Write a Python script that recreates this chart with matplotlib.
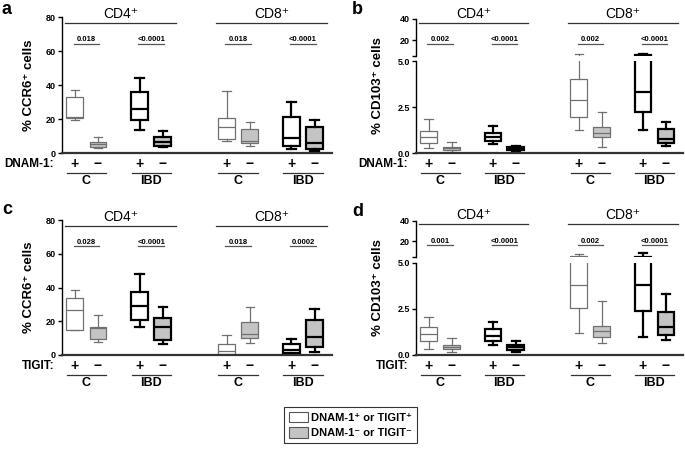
import matplotlib
matplotlib.use('Agg')
import matplotlib.pyplot as plt
from matplotlib.patches import Patch
from matplotlib import transforms

plt.rcParams['font.family'] = ['Liberation Sans', 'DejaVu Sans']

# box order: CD4 C+, CD4 C-, CD4 IBD+, CD4 IBD-, CD8 C+, CD8 C-, CD8 IBD+, CD8 IBD-
# each box: (whisker low, Q1, median, Q3, whisker high)
ccr6_dnam = [(19.4, 20.4, 21.4, 33.2, 37.1), (3.1, 3.7, 5.1, 6.7, 9.4),
             (13.4, 19.4, 25.9, 35.8, 44.2), (3.3, 4.3, 6.3, 9.2, 13.0),
             (6.9, 8.1, 15.1, 20.8, 36.5), (3.9, 5.7, 7.3, 13.9, 18.3),
             (2.4, 3.9, 9.0, 21.0, 30.3), (1.2, 2.6, 5.7, 15.3, 19.4)]
cd103_dnam = [(0.26, 0.53, 0.85, 1.21, 1.85), (0.05, 0.18, 0.25, 0.34, 0.58),
              (0.49, 0.65, 0.89, 1.07, 1.48), (0.10, 0.15, 0.22, 0.32, 0.36),
              (1.25, 1.94, 2.86, 4.04, 6.6), (0.31, 0.87, 1.10, 1.43, 2.21),
              (1.25, 2.21, 3.33, 5.6, 6.8), (0.38, 0.53, 0.78, 1.29, 1.70)]
ccr6_tigit = [(14.6, 14.6, 26.9, 33.6, 38.3), (7.5, 9.5, 16.0, 16.6, 23.5),
              (16.8, 20.8, 29.0, 37.4, 48.2), (6.7, 9.1, 16.8, 21.9, 28.7),
              (0.2, 0.8, 2.2, 6.7, 11.9), (7.1, 9.9, 12.5, 19.8, 28.3),
              (0.2, 1.0, 2.8, 6.7, 9.7), (2.0, 4.7, 10.7, 20.6, 27.5)]
cd103_tigit = [(0.33, 0.76, 1.13, 1.52, 2.09), (0.15, 0.30, 0.41, 0.52, 0.91),
               (0.56, 0.74, 1.02, 1.43, 1.81), (0.19, 0.26, 0.43, 0.57, 0.76),
               (1.20, 2.56, 3.80, 5.5, 7.5), (0.63, 0.98, 1.33, 1.57, 2.96),
               (0.98, 2.41, 3.83, 5.4, 9.0), (0.80, 1.09, 1.54, 2.33, 3.30)]

p_a = ['0.018', '<0.0001', '0.018', '<0.0001']
p_b = ['0.002', '<0.0001', '0.002', '<0.0001']
p_c = ['0.028', '<0.0001', '0.018', '0.0002']
p_d = ['0.001', '<0.0001', '0.002', '<0.0001']

groups = ['C', 'IBD', 'C', 'IBD']
cells = ['CD4⁺', 'CD8⁺']

pos = [0.55, 1.55, 3.35, 4.35, 7.1, 8.1, 9.9, 10.9]
centers = [(pos[i] + pos[i + 1]) / 2 for i in range(0, 8, 2)]
GREY = '#c4c4c4'

W, H = 685, 450
fig = plt.figure(figsize=(W / 100, H / 100), dpi=100)


def px_rect(left, top, right, bottom):
    return [left / W, 1 - bottom / H, (right - left) / W, (bottom - top) / H]


def style_axis(ax, ticks, labels, bottom=True):
    ax.set_xlim(0, 11.65)
    ax.set_xticks([])
    for s in ['top', 'right']:
        ax.spines[s].set_visible(False)
    ax.spines['left'].set_linewidth(1.0)
    if bottom:
        ax.spines['bottom'].set_linewidth(1.6)
        ax.spines['bottom'].set_color('#333333')
    else:
        ax.spines['bottom'].set_visible(False)
    ax.set_yticks(ticks, labels, fontsize=6.5, fontweight='bold')
    ax.tick_params(axis='y', length=3, width=1, pad=1.5)
    ax.patch.set_alpha(0)


def draw_boxes(ax, data):
    for i, (lo, q1, med, q3, hi) in enumerate(data):
        ibd = i % 4 >= 2
        plus = i % 2 == 0
        ec = 'black' if ibd else '#707070'
        lw = 1.6 if ibd else 0.9
        fc = 'white' if plus else GREY
        st = dict(whislo=lo, q1=q1, med=med, q3=q3, whishi=hi, fliers=[])
        ax.bxp([st], positions=[pos[i]], widths=0.72, capwidths=0.36,
               patch_artist=True, showfliers=False, manage_ticks=False,
               boxprops=dict(facecolor=fc, edgecolor=ec, linewidth=lw),
               whiskerprops=dict(color=ec, linewidth=lw),
               capprops=dict(color=ec, linewidth=lw),
               medianprops=dict(color=ec, linewidth=lw))


def top_labels(ax, y_group, y_p, pvals):
    # CD4 / CD8 headers
    for (x0, x1), name in zip([(0.13, 4.9), (6.65, 11.43)], cells):
        ax.plot([x0, x1], [y_group, y_group], color='#333333', lw=0.9, clip_on=False)
        ax.annotate(name, ((x0 + x1) / 2, y_group), xytext=(0, 1.5),
                    textcoords='offset points', ha='center', va='bottom',
                    fontsize=10, annotation_clip=False)
    # p values
    for c, p in zip(centers, pvals):
        ax.plot([c - 0.55, c + 0.55], [y_p, y_p], color='#555555', lw=0.9, clip_on=False)
        ax.annotate(p, (c, y_p), xytext=(0, 0.6), textcoords='offset points',
                    ha='center', va='bottom', fontsize=5.5, fontweight='bold',
                    annotation_clip=False)


def bottom_labels(ax, marker):
    trans = ax.get_xaxis_transform()
    for i, p in enumerate(pos):
        sign = '+' if i % 2 == 0 else '−'
        ax.annotate(sign, (p, 0), xycoords=trans, xytext=(0, -7.8),
                    textcoords='offset points', ha='center', va='center',
                    fontsize=10, fontweight='bold', annotation_clip=False)
    line_tr = transforms.offset_copy(trans, fig=fig, y=-14.4, units='points')
    for c, g in zip(centers, groups):
        ax.plot([c - 0.85, c + 0.85], [0, 0], transform=line_tr, color='#333333',
                lw=0.9, clip_on=False)
        ax.annotate(g, (c, 0), xycoords=trans, xytext=(0, -19.9),
                    textcoords='offset points', ha='center', va='center',
                    fontsize=9, fontweight='bold', annotation_clip=False)
    ax.annotate(marker, (0, 0), xycoords='axes fraction', xytext=(-5.5, -7.8),
                textcoords='offset points', ha='right', va='center',
                fontsize=8.5, fontweight='bold', annotation_clip=False)


def ccr6_panel(rect, data, pvals, marker):
    ax = fig.add_axes(rect)
    draw_boxes(ax, data)
    ax.set_ylim(0, 80)
    style_axis(ax, [0, 20, 40, 60, 80], ['0', '20', '40', '60', '80'])
    top_labels(ax, 76.5, 64.3, pvals)
    bottom_labels(ax, marker)


def cd103_panel(rect_up, rect_low, data, pvals, marker):
    up = fig.add_axes(rect_up)
    low = fig.add_axes(rect_low)
    draw_boxes(up, data)
    draw_boxes(low, data)
    up.set_ylim(5, 40)
    low.set_ylim(0, 5)
    style_axis(up, [5, 20, 40], ['', '20', '40'], bottom=False)
    style_axis(low, [0, 2.5, 5], ['0.0', '2.5', '5.0'])
    top_labels(up, 36.6, 16.2, pvals)
    bottom_labels(low, marker)


ccr6_panel(px_rect(62, 17.3, 332, 153), ccr6_dnam, p_a, 'DNAM-1:')
cd103_panel(px_rect(416, 19, 683, 56), px_rect(416, 61, 683, 153), cd103_dnam, p_b, 'DNAM-1:')
ccr6_panel(px_rect(62, 220, 332, 355), ccr6_tigit, p_c, 'TIGIT:')
cd103_panel(px_rect(416, 220.7, 683, 257), px_rect(416, 263, 683, 355), cd103_tigit, p_d, 'TIGIT:')

# y labels
ylab = dict(rotation=90, ha='center', va='center', fontsize=9.5, fontweight='bold')
fig.text(29 / W, 1 - 85 / H, '% CCR6⁺ cells', **ylab)
fig.text(378 / W, 1 - 86 / H, '% CD103⁺ cells', **ylab)
fig.text(29 / W, 1 - 287.5 / H, '% CCR6⁺ cells', **ylab)
fig.text(378 / W, 1 - 288 / H, '% CD103⁺ cells', **ylab)

# panel letters
for x, y, t in [(2, 14, 'a'), (352, 14, 'b'), (2, 214, 'c'), (352, 216, 'd')]:
    fig.text(x / W, 1 - y / H, t, fontsize=13, fontweight='bold', va='baseline')

# legend
handles = [Patch(facecolor='white', edgecolor='#555555', linewidth=0.8),
           Patch(facecolor=GREY, edgecolor='#555555', linewidth=0.8)]
leg = fig.legend(handles, ['DNAM-1⁺ or TIGIT⁺', 'DNAM-1⁻ or TIGIT⁻'],
                 loc='center', bbox_to_anchor=(350.5 / W, 1 - 425 / H),
                 frameon=True, fancybox=False, edgecolor='black',
                 prop=dict(weight='bold', size=8), handlelength=1.7,
                 handleheight=1.1, handletextpad=0.3, labelspacing=0.4,
                 borderpad=0.45)
leg.get_frame().set_linewidth(0.8)

fig.savefig('out.png', dpi=100)
